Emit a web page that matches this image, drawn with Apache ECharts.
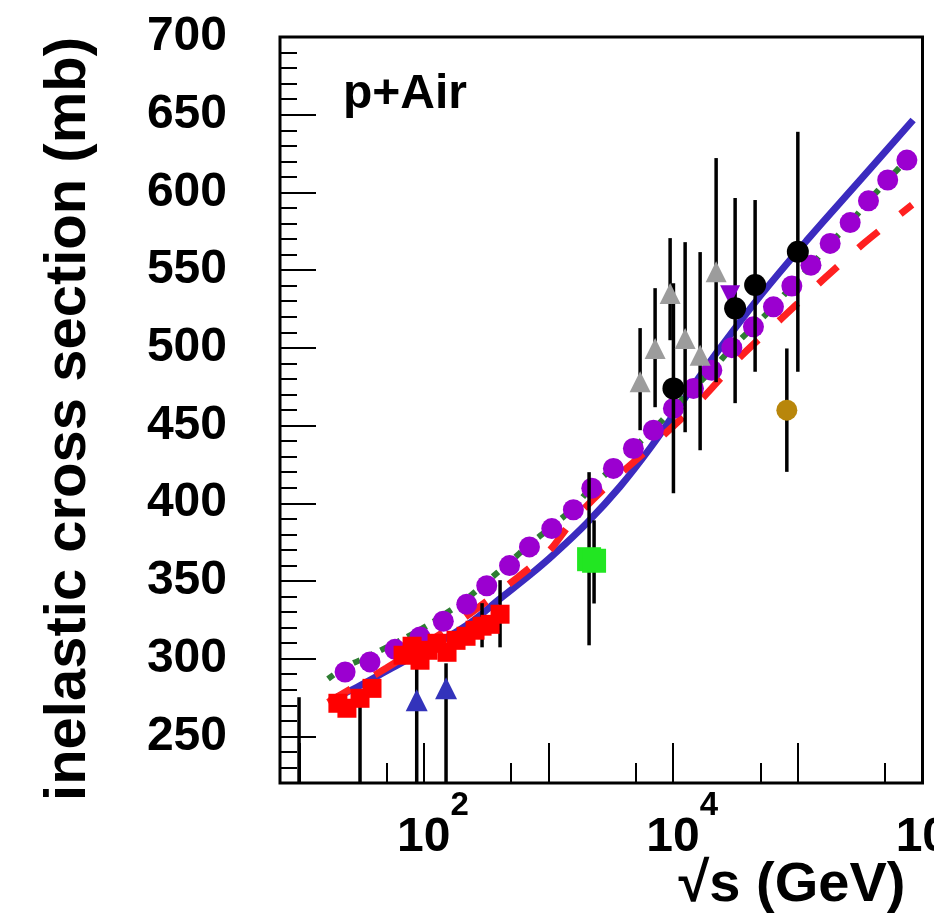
<!DOCTYPE html>
<html>
<head>
<meta charset="utf-8">
<script src="https://cdn.jsdelivr.net/npm/echarts@6/dist/echarts.min.js"></script>
<style>
html,body{margin:0;padding:0;background:#fff;}
#chart{width:934px;height:916px;}
</style>
</head>
<body>
<div id="chart"></div>
<script>
// ---------- axes ----------
const xMin = 7, xMax = 1e6;
const yMin = 220, yMax = 700;
const xLabelExponents = [2, 4, 6];
const xMinorTicks = [50, 500, 5000, 50000, 500000];
const yTickLabels = [250, 300, 350, 400, 450, 500, 550, 600, 650, 700];

// ---------- model curves [sqrt(s) GeV, mb] ----------
const blueModel = [[17.6,273.2],[29,281.6],[49.6,291.9],[100,305.4],[221,321.5],[407,338.5],[709,353.9],[1085,366.6],[2034,387.4],[3742,410.7],[6513,435.4],[11340,463.1],[16410,481.8],[23750,499.8],[49740,533.3],[118500,569.3],[315700,607.9],[840600,646.6]];
const redModel = [[17,272],[50,294],[100,309],[200,325],[500,349],[1000,369],[1570,389],[3120,413],[6540,436],[16400,466],[34400,494],[74300,519],[160000,544],[347000,568],[826000,592]];
const greenModel = [[17,287],[23.3,294.5],[36.9,302],[58.6,310],[93,318.5],[143,328],[220,338.5],[319,349.5],[486,362],[702,373.5],[1061,385],[1581,397],[2221,410.5],[3311,423],[4790,435.5],[6934,447.5],[10036,461],[14530,474],[20400,485.6],[29530,500],[44030,513.5],[63690,526.4],[89480,539.8],[127400,553],[181600,567],[262800,580.5],[368600,594.5],[525600,608],[749400,621]];
const purpleModel = [[23.3,291.4],[36.9,297.9],[58.6,306],[93,314],[143,324.1],[220.5,335],[319,346.9],[486,359.9],[702,371.9],[1061,383.7],[1581,395.8],[2221,409.7],[3311,422.4],[4790,435.2],[6934,447],[10036,461],[14530,473.9],[20400,485.6],[29530,500.1],[44030,513.5],[63690,526.4],[89480,539.8],[127400,553.2],[181600,567.2],[262800,580.6],[368600,594.6],[525600,608],[749400,620.8]];

// ---------- data points [sqrt(s), mb] and error bars [sqrt(s), low, high] ----------
const redSquares = [[20.4,271.3],[24.1,268.1],[30.7,274.5],[38.3,280.9],[68,302.2],[80.3,308],[93,299],[107.8,305.4],[127.4,309.9],[153.2,304.1],[180.9,311.8],[217.7,314.4],[257,318.3],[292.6,320.9],[339.2,322.1],[408,328.6]];
const redSquareErrors = [[30.7,200,277],[292.6,307.3,335.7],[408,307.3,350.5]];
const blueTriangles = [[87.5,273.2],[150.4,280.9]];
const blueTriangleErrors = [[87.5,200,300.9],[150.4,200,297]];
const greenSquares = [[2113,364],[2317,363]];
const greenSquareErrors = [[2113,308.6,420],[2317,335.5,389]];
const grayTriangles = [[5424,478.1],[7155,499.6],[9443,535],[12460,506],[16440,495.3],[22090,548.9]];
const grayTriangleErrors = [[5424,447,512.7],[7155,461.8,538.4],[9443,504.9,570.6],[12460,445.7,568],[16440,434.1,561.6],[22090,477.9,622.1]];
const blackCircles = [[10040,473.9],[31380,525.4],[45400,540.4],[99950,561.8]];
const blackCircleErrors = [[10040,406.5,541.6],[31380,464.4,596.4],[45400,484.6,595.1],[99950,484.6,639]];
const goldCircles = [[81560,459.9]];
const goldCircleErrors = [[81560,420.2,499.6]];
const purpleDownTriangles = [[28600,533.9]];
const lowEnergyErrors = [[9.95,150,275.2]];

const FONT = 'Liberation Sans, Arial, Helvetica, sans-serif';
const allErrors = [].concat(lowEnergyErrors, redSquareErrors, blueTriangleErrors, greenSquareErrors, grayTriangleErrors, blackCircleErrors, goldCircleErrors);

const chart = echarts.init(document.getElementById('chart'), null, {renderer: 'canvas'});

function scatter(name, data, symbol, size, color, extra) {
  return Object.assign({
    name: name, type: 'scatter', data: data, symbol: symbol, symbolSize: size,
    itemStyle: {color: color, opacity: 1, borderWidth: 0}, z: 6, silent: true
  }, extra || {});
}

const option = {
  animation: false,
  backgroundColor: '#fff',
  grid: {left: 280, right: 11.5, top: 37, bottom: 133, show: true, borderColor: '#000', borderWidth: 3,
         backgroundColor: 'transparent', containLabel: false, outerBoundsMode: 'none'},
  xAxis: [
    {
      type: 'log', logBase: 10, min: xMin, max: xMax, position: 'bottom',
      axisLine: {show: false},
      axisTick: {show: true, inside: true, length: 40, lineStyle: {color: '#000', width: 2}},
      splitLine: {show: false},
      axisLabel: {
        show: true, margin: 6, showMinLabel: true, showMaxLabel: true,
        formatter: function (v) {
          const l = Math.log10(v), e = Math.round(l);
          if (Math.abs(l - e) > 1e-6) return '';
          return xLabelExponents.indexOf(e) >= 0 ? '{p| }{b|10}{s|' + e + '}' : '';
        },
        rich: {
          p: {width: 18, fontSize: 33, fontFamily: FONT},
          b: {fontSize: 48, fontWeight: 'bold', fontFamily: FONT, lineHeight: 98, color: '#000'},
          s: {fontSize: 33, fontWeight: 'bold', fontFamily: FONT, lineHeight: 33, verticalAlign: 'top', color: '#000'}
        }
      }
    },
    {
      type: 'log', logBase: 10, min: xMin, max: xMax, position: 'bottom',
      axisLine: {show: false},
      axisTick: {show: true, inside: true, length: 20, customValues: xMinorTicks, lineStyle: {color: '#000', width: 2}},
      axisLabel: {show: false},
      splitLine: {show: false}
    }
  ],
  yAxis: [
    {
      type: 'value', min: yMin, max: yMax, interval: 10,
      axisLine: {show: false},
      axisTick: {show: true, inside: true, length: 17, lineStyle: {color: '#000', width: 2}},
      splitLine: {show: false},
      axisLabel: {
        show: true, margin: 53, fontSize: 48, fontWeight: 'bold', fontFamily: FONT, color: '#000',
        formatter: function (v) { return yTickLabels.indexOf(v) >= 0 ? String(v) : ''; }
      }
    },
    {
      type: 'value', min: yMin, max: yMax, position: 'left',
      axisLine: {show: false},
      axisTick: {show: true, inside: true, length: 36, customValues: yTickLabels, lineStyle: {color: '#000', width: 2}},
      axisLabel: {show: false},
      splitLine: {show: false}
    }
  ],
  graphic: [
    {type: 'text', x: 343, y: 95, style: {text: 'p+Air', fontSize: 48, fontWeight: 'bold', fontFamily: FONT, fill: '#000', align: 'left', verticalAlign: 'middle', textAlign: 'left', textVerticalAlign: 'middle'}},
    {type: 'text', x: 69, y: 419, rotation: Math.PI / 2, style: {text: 'inelastic cross section (mb)', fontSize: 58, fontWeight: 'bold', fontFamily: FONT, fill: '#000', align: 'center', verticalAlign: 'middle', textAlign: 'center', textVerticalAlign: 'middle'}},
    {type: 'text', x: 792, y: 886, style: {text: '√s (GeV)', fontSize: 56, fontWeight: 'bold', fontFamily: FONT, fill: '#000', align: 'center', verticalAlign: 'middle', textAlign: 'center', textVerticalAlign: 'middle'}}
  ],
  series: [
    {name: 'blue model', type: 'line', data: blueModel, showSymbol: false, symbol: 'none', smooth: 0.4, z: 2, silent: true,
     lineStyle: {color: '#3b2bbf', width: 7, cap: 'butt'}},
    {name: 'green model', type: 'line', data: greenModel, showSymbol: false, symbol: 'none', smooth: 0.3, z: 2, silent: true,
     lineStyle: {color: '#2e7d32', width: 6, type: [7, 8], cap: 'butt'}},
    {name: 'red model', type: 'line', data: redModel, showSymbol: false, symbol: 'none', smooth: 0.3, z: 2, silent: true,
     lineStyle: {color: '#ff2020', width: 7, type: [26, 28], cap: 'butt'}},
    scatter('purple model', purpleModel, 'circle', 21, '#9b00d0', {z: 3}),
    {
      name: 'errors', type: 'custom', data: allErrors, clip: true, z: 4, silent: true,
      encode: {x: 0, y: [1, 2]},
      renderItem: function (params, api) {
        const p1 = api.coord([api.value(0), api.value(1)]);
        const p2 = api.coord([api.value(0), api.value(2)]);
        return {type: 'line', shape: {x1: p1[0], y1: p1[1], x2: p2[0], y2: p2[1]}, style: {stroke: '#000', lineWidth: 3.5}};
      }
    },
    scatter('red squares', redSquares, 'rect', 19, '#ff0000'),
    scatter('blue triangles', blueTriangles, 'triangle', 22, '#3333bb'),
    scatter('green squares', greenSquares, 'rect', 24, '#22e622'),
    scatter('gray triangles', grayTriangles, 'triangle', 21, '#9c9c9c'),
    scatter('purple down triangles', purpleDownTriangles, 'triangle', 20, '#8a00cc', {symbolRotate: 180, z: 5}),
    scatter('black circles', blackCircles, 'circle', 22, '#000000'),
    scatter('gold circles', goldCircles, 'circle', 21, '#b8860b')
  ]
};
chart.setOption(option);
</script>
</body>
</html>
